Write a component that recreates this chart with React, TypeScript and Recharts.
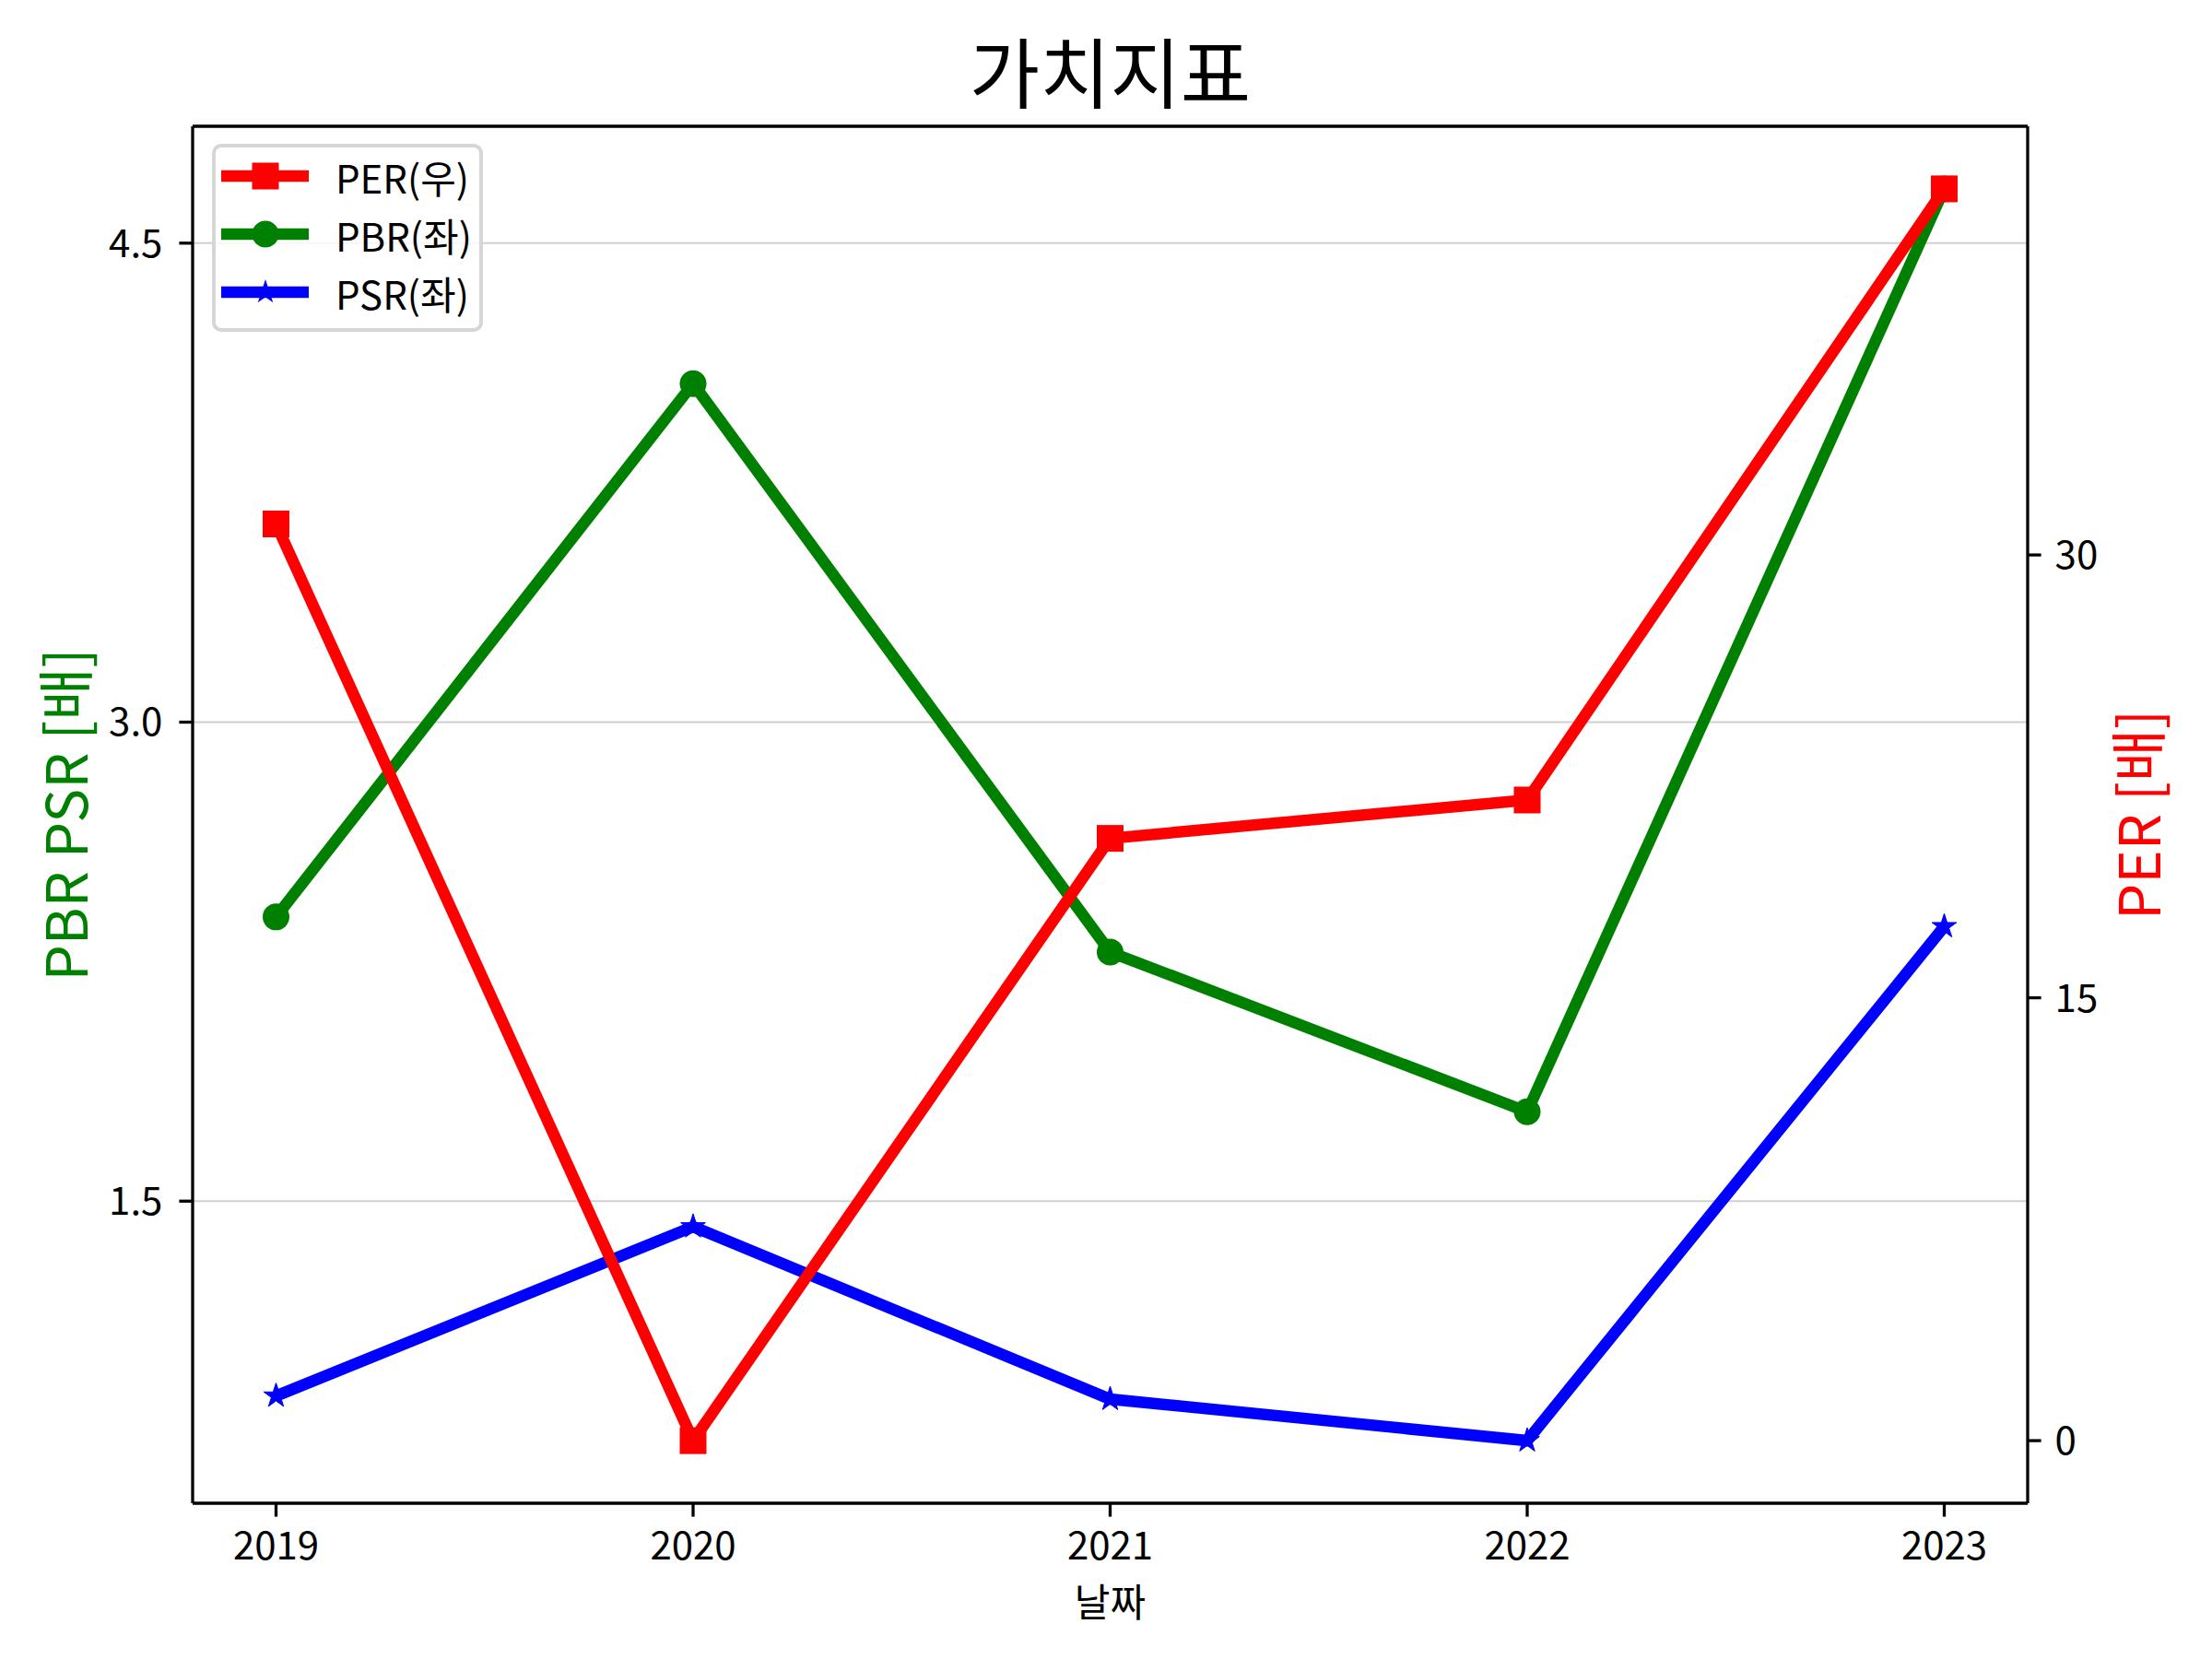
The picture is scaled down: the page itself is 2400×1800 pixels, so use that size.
import { LineChart, Line, XAxis, YAxis, CartesianGrid, ReferenceLine } from 'recharts';

const years = [2019, 2020, 2021, 2022, 2023];
const perValues = [31.05, 0, 20.4, 21.7, 42.4];
const pbrValues = [2.39, 4.06, 2.28, 1.78, 4.67];
const psrValues = [0.89, 1.42, 0.88, 0.75, 2.36];

const leftTicks = [1.5, 3.0, 4.5];
const rightTicks = [0, 15, 30];

const FONT = "'Noto Sans CJK KR', 'Noto Sans', sans-serif";

// matplotlib-style 5% margins around the data
function padded(values: number[]): [number, number] {
  const lo = Math.min(...values);
  const hi = Math.max(...values);
  const pad = (hi - lo) * 0.05;
  return [lo - pad, hi + pad];
}

const data = years.map((year, i) => ({ year, per: perValues[i], pbr: pbrValues[i], psr: psrValues[i] }));

const xDomain = padded(years);
const leftDomain = padded([...pbrValues, ...psrValues]);
const rightDomain = padded(perValues);

const SquareDot = (props: any) => {
  const { cx, cy, index } = props;
  return <rect key={`sq-${index}`} x={cx - 14.5} y={cy - 14.5} width={29} height={29} fill="#ff0000" />;
};

const CircleDot = (props: any) => {
  const { cx, cy, index } = props;
  return <circle key={`ci-${index}`} cx={cx} cy={cy} r={14.5} fill="#008000" />;
};

function starPath(cx: number, cy: number, r: number) {
  const inner = r * 0.382;
  const pts: string[] = [];
  for (let k = 0; k < 10; k++) {
    const rad = k % 2 === 0 ? r : inner;
    const a = -Math.PI / 2 + (k * Math.PI) / 5;
    pts.push(`${(cx + rad * Math.cos(a)).toFixed(2)},${(cy + rad * Math.sin(a)).toFixed(2)}`);
  }
  return `M${pts.join('L')}Z`;
}

const StarDot = (props: any) => {
  const { cx, cy, index } = props;
  return <path key={`st-${index}`} d={starPath(cx, cy, 14)} fill="#0000ff" stroke="#0000ff" strokeWidth={1} />;
};

const tickStyle = { fontSize: 42, fill: '#000', fontFamily: FONT };
const axisStroke = { stroke: '#000', strokeWidth: 3.3 };

const legendRows = [
  { label: 'PER(우)', color: '#ff0000', marker: 'square' },
  { label: 'PBR(좌)', color: '#008000', marker: 'circle' },
  { label: 'PSR(좌)', color: '#0000ff', marker: 'star' },
];

export default function App() {
  return (
    <div style={{ position: 'absolute', left: 0, top: 0, width: 2400, height: 1800, background: '#fff' }}>
      <LineChart width={2400} height={1800} data={data} margin={{ top: 137, right: 100, bottom: 89, left: 109 }}>
        <CartesianGrid yAxisId="left" vertical={false} horizontal stroke="#d0d0d0" strokeWidth={2} />
        <XAxis
          dataKey="year"
          type="number"
          domain={xDomain}
          ticks={years}
          height={80}
          tickSize={14.6}
          tickMargin={17}
          tick={tickStyle}
          axisLine={axisStroke}
          tickLine={axisStroke}
          allowDecimals={false}
        />
        <YAxis
          yAxisId="left"
          type="number"
          domain={leftDomain}
          ticks={leftTicks}
          width={100}
          tickSize={14.6}
          tickMargin={18}
          tick={tickStyle}
          tickFormatter={(v: number) => v.toFixed(1)}
          axisLine={axisStroke}
          tickLine={axisStroke}
          allowDataOverflow
        />
        <YAxis
          yAxisId="right"
          orientation="right"
          type="number"
          domain={rightDomain}
          ticks={rightTicks}
          width={100}
          tickSize={14.6}
          tickMargin={15}
          tick={tickStyle}
          axisLine={axisStroke}
          tickLine={axisStroke}
          allowDataOverflow
        />
        {/* top spine */}
        <ReferenceLine yAxisId="left" y={leftDomain[1]} stroke="#000" strokeWidth={3.3} />
        <Line yAxisId="left" type="linear" dataKey="pbr" stroke="#008000" strokeWidth={12.5} strokeLinejoin="miter" dot={CircleDot} activeDot={false} isAnimationActive={false} />
        <Line yAxisId="left" type="linear" dataKey="psr" stroke="#0000ff" strokeWidth={12.5} strokeLinejoin="miter" dot={StarDot} activeDot={false} isAnimationActive={false} />
        <Line yAxisId="right" type="linear" dataKey="per" stroke="#ff0000" strokeWidth={12.5} strokeLinejoin="miter" dot={SquareDot} activeDot={false} isAnimationActive={false} />
      </LineChart>
      <svg width={2400} height={1800} style={{ position: 'absolute', left: 0, top: 0, pointerEvents: 'none' }} fontFamily={FONT}>
        <text x={1204.5} y={75} fontSize={83} textAnchor="middle" dominantBaseline="central" fill="#000">가치지표</text>
        <text x={1204.5} y={1735} fontSize={42} textAnchor="middle" dominantBaseline="central" fill="#000">날짜</text>
        <text x={68} y={884} fontSize={62} textAnchor="middle" dominantBaseline="central" fill="#008000" transform="rotate(-90 68 884)">PBR PSR [배]</text>
        <text x={2317} y={884} fontSize={62} textAnchor="middle" dominantBaseline="central" fill="#ff0000" transform="rotate(-90 2317 884)">PER [배]</text>
        <rect x={232} y={158} width={290} height={200} rx={8} ry={8} fill="rgba(255,255,255,0.8)" stroke="#d6d6d6" strokeWidth={4} />
        {legendRows.map((row, i) => {
          const y = 191 + i * 63;
          return (
            <g key={row.label}>
              <line x1={240} x2={335} y1={y} y2={y} stroke={row.color} strokeWidth={12.5} />
              {row.marker === 'square' && <rect x={288 - 14.5} y={y - 14.5} width={29} height={29} fill={row.color} />}
              {row.marker === 'circle' && <circle cx={288} cy={y} r={14.5} fill={row.color} />}
              {row.marker === 'star' && <path d={starPath(288, y, 14)} fill={row.color} />}
              <text x={364} y={y} fontSize={42} dominantBaseline="central" fill="#000">{row.label}</text>
            </g>
          );
        })}
      </svg>
    </div>
  );
}
